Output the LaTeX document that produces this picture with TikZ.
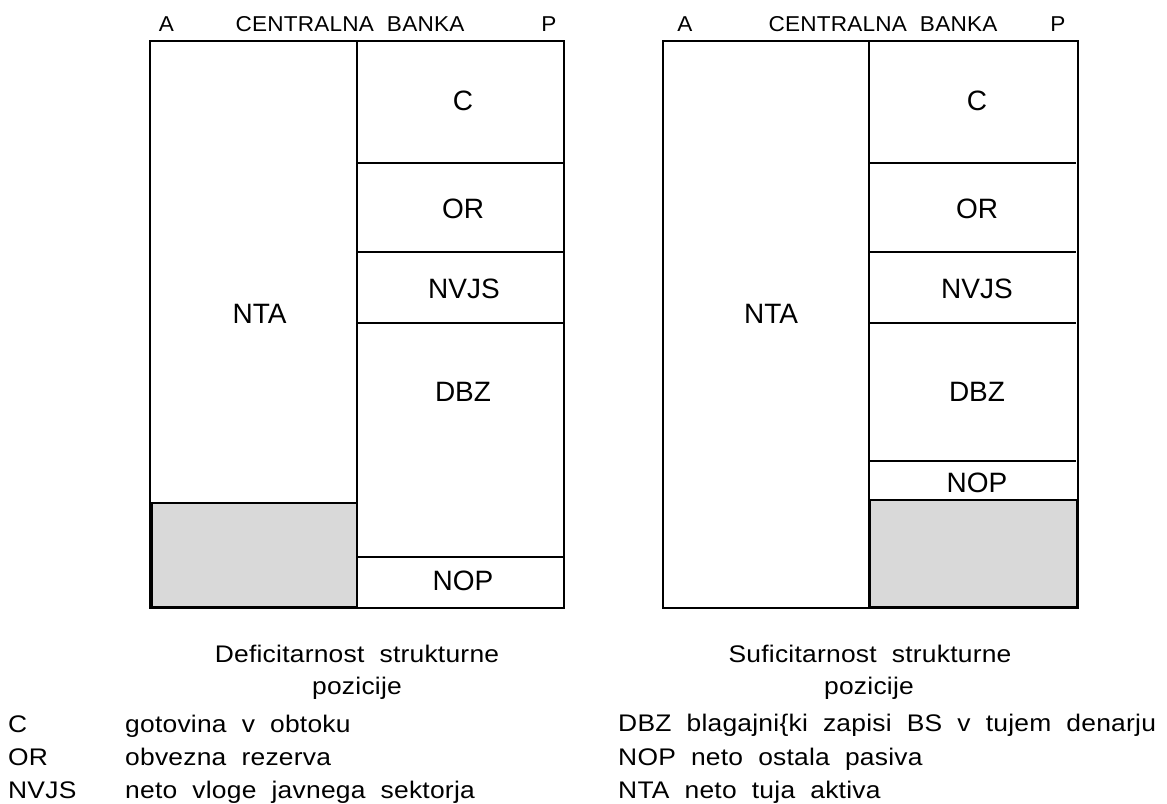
\documentclass[tikz,border=0pt]{standalone}
\usepackage{fontspec}
\setmainfont{Liberation Sans}[FakeStretch=1.1,LetterSpace=1,WordSpace=2]
\newfontfamily\headfont{Liberation Sans}[FakeStretch=1.05,LetterSpace=1,WordSpace=2]
\newfontfamily\lblfont{Liberation Sans}
\definecolor{shadegray}{RGB}{217,217,217}
\begin{document}
\begin{tikzpicture}[x=1pt,y=-1pt,
  frame/.style={line width=2pt},
  divline/.style={line width=1.6pt},
  shadebox/.style={fill=shadegray,draw=black,line width=2.4pt},
  lbl/.style={font=\lblfont\fontsize{28}{30}\selectfont,inner sep=0pt,text height=20pt,text depth=0pt,anchor=center},
  head/.style={font=\headfont\fontsize{21.5}{24}\selectfont,inner sep=0pt,anchor=base},
  leg/.style={font=\fontsize{24}{28}\selectfont,inner sep=0pt,anchor=base west}]
\useasboundingbox (0,0) rectangle (1167,803);

% ---------- left balance sheet (deficit) ----------
\draw[shadebox] (152,503) rectangle (357,607);
\draw[frame] (150,41) rectangle (564,608);
\draw[frame] (357,41) -- (357,608);
\foreach \yy in {163,252,323,557} \draw[divline] (357,\yy) -- (563,\yy);

\node[head] (lA) at (166.5,31) {A};
\node[head] (lCB) at (350,31) {CENTRALNA BANKA};
\node[head] (lP) at (549,31) {P};

\node[lbl] (lC) at (463,100) {C};
\node[lbl] (lOR) at (463,208.5) {OR};
\node[lbl] (lNVJS) at (464,288.5) {NVJS};
\node[lbl] (lDBZ) at (463,391) {DBZ};
\node[lbl] (lNOP) at (463,580.5) {NOP};
\node[lbl] (lNTA) at (259.5,313.5) {NTA};

% ---------- right balance sheet (surplus) ----------
\draw[shadebox] (870,500) rectangle (1077,607);
\draw[frame] (663,41) rectangle (1078,608);
\draw[frame] (869,41) -- (869,608);
\foreach \yy in {163,252,323,461} \draw[divline] (869,\yy) -- (1076,\yy);

\node[head] (rA) at (685,31) {A};
\node[head] (rCB) at (883,31) {CENTRALNA BANKA};
\node[head] (rP) at (1058,31) {P};

\node[lbl] (rC) at (977,100) {C};
\node[lbl] (rOR) at (977,208.5) {OR};
\node[lbl] (rNVJS) at (977,288.5) {NVJS};
\node[lbl] (rDBZ) at (977,391) {DBZ};
\node[lbl] (rNOP) at (977,482.5) {NOP};
\node[lbl] (rNTA) at (771,313.5) {NTA};

% ---------- captions ----------
\node[leg,anchor=base] (capL1) at (357,662) {Deficitarnost strukturne};
\node[leg,anchor=base] (capL2) at (357,694) {pozicije};
\node[leg,anchor=base] (capR1) at (870,662) {Suficitarnost strukturne};
\node[leg,anchor=base] (capR2) at (869,694) {pozicije};

% ---------- legend ----------
\node[leg] (kC) at (8,732) {C};
\node[leg] (kOR) at (8,765) {OR};
\node[leg] (kNVJS) at (8,798) {NVJS};
\node[leg] (dC) at (125,732) {gotovina v obtoku};
\node[leg] (dOR) at (125,765) {obvezna rezerva};
\node[leg] (dNVJS) at (125,798) {neto vloge javnega sektorja};

\node[leg] (kDBZ) at (618,731) {DBZ blagajni\{ki zapisi BS v tujem denarju};
\node[leg] (kNOP) at (618,765) {NOP neto ostala pasiva};
\node[leg] (kNTA) at (618,798) {NTA neto tuja aktiva};
\end{tikzpicture}
\end{document}
